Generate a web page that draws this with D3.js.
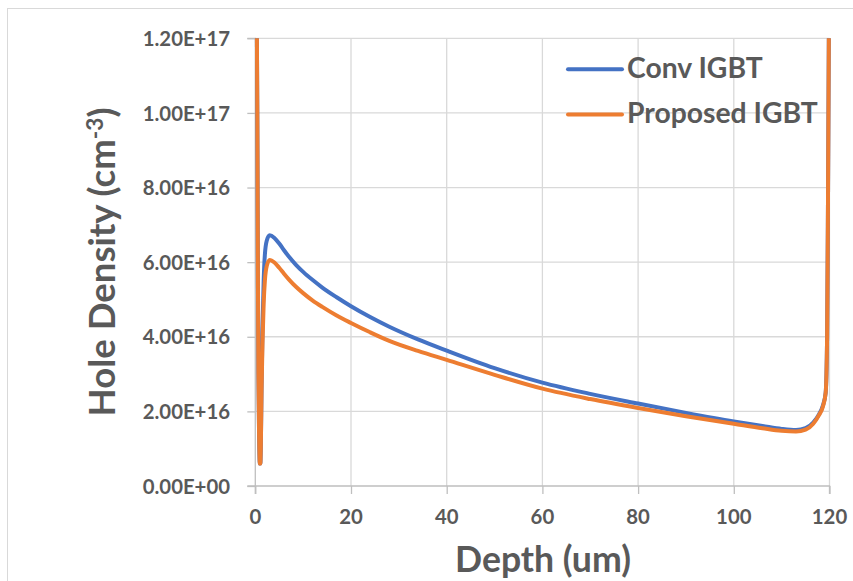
<!DOCTYPE html>
<html>
<head>
<meta charset="utf-8">
<script src="https://cdn.jsdelivr.net/npm/d3@7"></script>
<style>
  html, body { margin: 0; padding: 0; background: #fff; }
  svg { display: block; }
  text { font-family: "Lato", "Open Sans", sans-serif; font-weight: 700; fill: #595959; }
</style>
</head>
<body>
<svg id="chart" width="853" height="581"></svg>
<script>
// Depth through the device (um)
const depth = [
  0.0, 0.3, 0.45, 0.55, 0.65, 0.8, 0.95, 1.05, 1.15, 1.3, 1.5, 1.75, 2.0, 2.4, 3.0,
  4.0, 5.0, 6.0, 7.0, 8.5, 10.0, 12.0, 14.0, 17.0, 20.0, 24.0, 28.0, 34.0, 40.0, 50.0,
  60.0, 70.0, 80.0, 90.0, 100.0, 106.0, 110.0, 113.0, 115.0, 116.6, 117.8, 118.6,
  119.2, 119.5, 119.7, 119.9
];
// Hole density (cm^-3), conventional IGBT
const convIGBT = [
  1.45e17, 1.30e17, 9.0e16, 5.5e16, 3.0e16, 1.3e16, 6.0e15, 6.0e15, 1.0e16, 2.6e16, 4.2e16, 5.5e16, 6.2e16, 6.58e16, 6.72e16,
  6.65e16, 6.50e16, 6.32e16, 6.15e16, 5.93e16, 5.74e16, 5.52e16, 5.32e16, 5.06e16, 4.82e16, 4.53e16, 4.27e16, 3.93e16, 3.63e16, 3.16e16,
  2.77e16, 2.47e16, 2.21e16, 1.96e16, 1.73e16, 1.61e16, 1.53e16, 1.50e16, 1.55e16, 1.70e16, 1.92e16, 2.15e16,
  2.5e16, 4.0e16, 8.0e16, 1.30e17
];
// Hole density (cm^-3), proposed IGBT
const proposedIGBT = [
  1.45e17, 1.30e17, 9.0e16, 5.5e16, 3.0e16, 1.3e16, 6.0e15, 6.0e15, 1.0e16, 2.5e16, 3.8e16, 4.9e16, 5.5e16, 5.9e16, 6.06e16,
  5.99e16, 5.85e16, 5.69e16, 5.54e16, 5.34e16, 5.17e16, 4.97e16, 4.80e16, 4.57e16, 4.37e16, 4.12e16, 3.89e16, 3.62e16, 3.38e16, 2.98e16,
  2.61e16, 2.33e16, 2.09e16, 1.87e16, 1.67e16, 1.55e16, 1.48e16, 1.46e16, 1.51e16, 1.67e16, 1.90e16, 2.12e16,
  2.5e16, 4.0e16, 8.0e16, 1.30e17
];
const xTicks = [0, 20, 40, 60, 80, 100, 120];
const yTicks = [0, 2e16, 4e16, 6e16, 8e16, 1e17, 1.2e17];
const yTickLabels = ["0.00E+00", "2.00E+16", "4.00E+16", "6.00E+16", "8.00E+16", "1.00E+17", "1.20E+17"];
const seriesNames = ["Conv IGBT", "Proposed IGBT"];
const seriesColors = ["#4472C4", "#ED7D31"];

const svg = d3.select("#chart");

// outer chart frame
svg.append("rect")
  .attr("x", 7.5).attr("y", 8.5).attr("width", 1000).attr("height", 1000)
  .attr("fill", "#fff").attr("stroke", "#d9d9d9").attr("stroke-width", 1);

const plot = { left: 255.3, right: 829.5, top: 38.3, bottom: 486 };
const x = d3.scaleLinear().domain([0, 120]).range([plot.left, plot.right]);
const y = d3.scaleLinear().domain([0, 1.2e17]).range([plot.bottom, plot.top]);

// scale a label's font so it spans a given width
function fitWidth(sel, width, base) {
  sel.style("font-size", base + "px");
  const w = sel.node().getComputedTextLength();
  const size = base * width / w;
  sel.style("font-size", size + "px");
  return size;
}

// gridlines
const grid = svg.append("g");
grid.selectAll("line.h").data(yTicks.slice(1)).join("line")
  .attr("x1", plot.left).attr("x2", plot.right)
  .attr("y1", d => y(d)).attr("y2", d => y(d))
  .attr("stroke", "#d9d9d9").attr("stroke-width", 1.3);
grid.selectAll("line.v").data(xTicks.slice(1)).join("line")
  .attr("x1", d => x(d)).attr("x2", d => x(d))
  .attr("y1", plot.top).attr("y2", plot.bottom)
  .attr("stroke", "#d9d9d9").attr("stroke-width", 1.3);

// axes
const xAxis = d3.axisBottom(x).tickValues(xTicks).tickSize(8).tickFormat("");
const yAxis = d3.axisLeft(y).tickValues(yTicks).tickSize(8).tickFormat("");
const gx = svg.append("g").attr("transform", `translate(0,${plot.bottom})`).call(xAxis);
const gy = svg.append("g").attr("transform", `translate(${plot.left},0)`).call(yAxis);
[gx, gy].forEach(g => {
  g.select(".domain").attr("stroke", "#bfbfbf").attr("stroke-width", 1.3);
  g.selectAll(".tick line").attr("stroke", "#bfbfbf").attr("stroke-width", 1.3);
});
gy.select(".domain").attr("d", `M-8,${plot.bottom}H0V${plot.top}H-8`);
gx.select(".domain").attr("d", `M${plot.left},8V0H${plot.right}V8`);

// tick labels
const yLab = svg.append("g").selectAll("text").data(yTicks).join("text")
  .attr("x", 230).attr("y", d => y(d) + 7.7)
  .attr("text-anchor", "end")
  .text((d, i) => yTickLabels[i]);
const tickSize = fitWidth(d3.select(yLab.nodes()[6]), 87.3, 20);
yLab.style("font-size", tickSize + "px");

svg.append("g").selectAll("text").data(xTicks).join("text")
  .attr("x", d => x(d)).attr("y", 524.3)
  .attr("text-anchor", "middle")
  .style("font-size", tickSize + "px")
  .text(d => d);

// axis titles
const xt = svg.append("text").attr("x", 543).attr("y", 571.7)
  .attr("text-anchor", "middle").text("Depth (um)");
fitWidth(xt, 176, 30);

const yt = svg.append("text")
  .attr("transform", "translate(115,262) rotate(-90)")
  .attr("text-anchor", "middle");
yt.append("tspan").text("Hole Density (cm");
yt.append("tspan").attr("dy", "-0.55em").style("font-size", "0.62em").text("-3");
yt.append("tspan").attr("dy", "0.34em").text(")");
fitWidth(yt, 309, 28);

// data lines, clipped to the plot area
svg.append("clipPath").attr("id", "plotClip")
  .append("rect").attr("x", plot.left - 5).attr("y", plot.top)
  .attr("width", plot.right - plot.left + 10).attr("height", plot.bottom - plot.top + 5);

const line = d3.line()
  .x(d => x(d[0])).y(d => y(d[1]))
  .curve(d3.curveMonotoneX);
const series = [convIGBT, proposedIGBT];
svg.append("g").attr("clip-path", "url(#plotClip)")
  .selectAll("path").data(series).join("path")
  .attr("d", s => line(depth.map((dv, i) => [dv, s[i]])))
  .attr("fill", "none")
  .attr("stroke", (s, i) => seriesColors[i])
  .attr("stroke-width", 4)
  .attr("stroke-linejoin", "round")
  .attr("stroke-linecap", "round");

// legend
const legendY = [69.3, 114.5];
const lg = svg.append("g");
lg.selectAll("line").data(seriesNames).join("line")
  .attr("x1", 568).attr("x2", 622)
  .attr("y1", (d, i) => legendY[i]).attr("y2", (d, i) => legendY[i])
  .attr("stroke", (d, i) => seriesColors[i]).attr("stroke-width", 4)
  .attr("stroke-linecap", "round");
const lt = lg.selectAll("text").data(seriesNames).join("text")
  .attr("x", 627).attr("y", (d, i) => legendY[i] + 8.5)
  .text(d => d);
const legSize = fitWidth(d3.select(lt.nodes()[1]), 191, 28);
lt.style("font-size", legSize + "px");
</script>
</body>
</html>
